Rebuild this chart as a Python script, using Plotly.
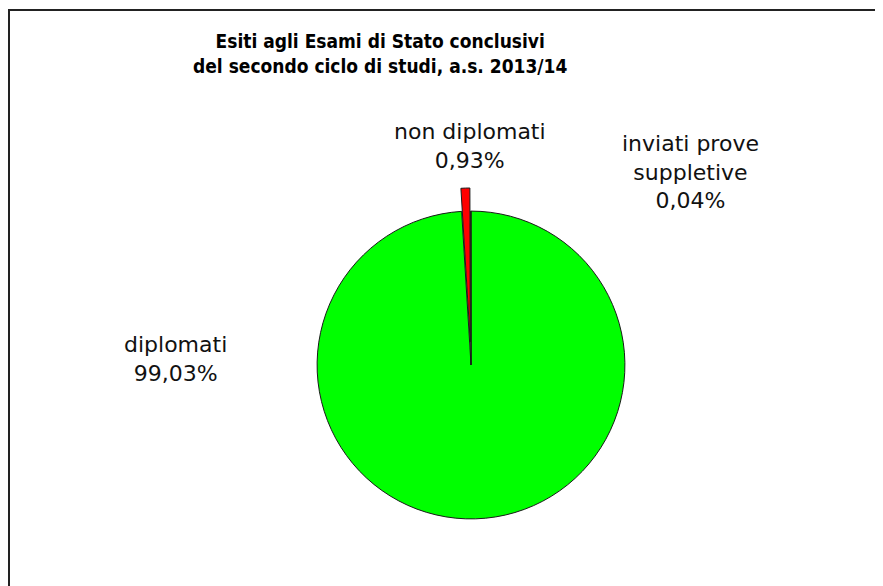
import plotly.graph_objects as go

# Data
labels = ["diplomati", "non diplomati", "inviati prove<br>suppletive"]
values = [99.03, 0.93, 0.04]
colors = ["#00FF00", "#FF0000", "#FFFF00"]
pulls = [0, 0.15, 0]

title_lines = ["Esiti agli Esami di Stato conclusivi",
               "del secondo ciclo di studi, a.s. 2013/14"]

W, H = 883, 586
OFF = 8  # page body margin


def px_x(x):
    return (x - OFF) / W


def px_y(y):
    return (H - (y - OFF)) / H


fig = go.Figure()

# pie centred at (471, 365), radius ~154
box = 354
cx, cy = 471, 365
fig.add_trace(go.Pie(
    labels=labels,
    values=values,
    sort=False,
    direction="clockwise",
    rotation=0,
    pull=pulls,
    marker=dict(colors=colors, line=dict(color="#1a1a1a", width=1)),
    textinfo="none",
    hoverinfo="label+percent",
    showlegend=False,
    domain=dict(
        x=[px_x(cx - box / 2), px_x(cx + box / 2)],
        y=[px_y(cy + box / 2), px_y(cy - box / 2)],
    ),
))


def fmt(v):
    return f"{v:.2f}".replace(".", ",") + "%"


# label positions (pixels, centre of text block)
label_pos = [(175, 359), (470, 146), (690, 172)]
for lab, val, (lx, ly) in zip(labels, values, label_pos):
    fig.add_annotation(
        x=px_x(lx), y=px_y(ly), xref="paper", yref="paper",
        text=f"{lab}<br>{fmt(val)}",
        showarrow=False, xanchor="center", yanchor="middle",
        align="center",
        font=dict(family="DejaVu Sans", size=22, color="#111111"),
    )

# title
fig.add_annotation(
    x=px_x(380), y=px_y(53), xref="paper", yref="paper",
    text="<b>" + "<br>".join(title_lines) + "</b>",
    showarrow=False, xanchor="center", yanchor="middle", align="center",
    font=dict(family="DejaVu Sans Condensed, DejaVu Sans, sans-serif",
              size=19, color="#000000"),
)

# chart frame (continues past the right and bottom of the picture)
fig.add_shape(type="rect", xref="paper", yref="paper",
              x0=1 / W, x1=1.05, y0=-0.05, y1=px_y(10),
              line=dict(color="#222222", width=2))

fig.update_layout(
    width=W, height=H,
    margin=dict(l=0, r=0, t=0, b=0),
    paper_bgcolor="white",
    plot_bgcolor="white",
)

fig.write_html("out.html")
